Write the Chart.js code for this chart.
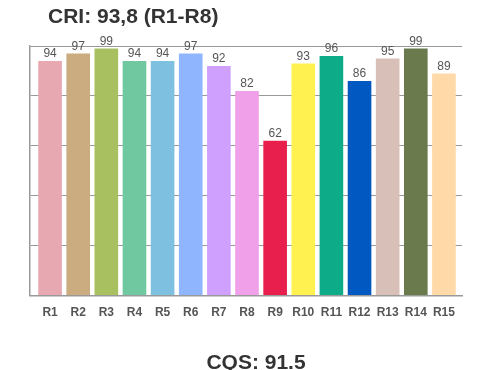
<!DOCTYPE html>
<html>
<head>
<meta charset="utf-8">
<script src="https://cdn.jsdelivr.net/npm/chart.js@4"></script>
<style>
  body { margin: 0; background: #fff; font-family: "Liberation Sans", Arial, sans-serif; }
  #wrap { position: relative; width: 500px; height: 370px; overflow: hidden; }
  #wrap canvas { position: absolute; left: 0; top: 0; }
  .ttl { position: absolute; font-weight: bold; font-size: 21px; color: #333; white-space: nowrap; }
  #top { left: 48px; top: 4px; }
  #bottom { left: 0; width: 512px; text-align: center; top: 350px; }
</style>
</head>
<body>
<div id="wrap">
  <canvas id="cri" width="500" height="370"></canvas>
  <div class="ttl" id="top">CRI: 93,8 (R1-R8)</div>
  <div class="ttl" id="bottom">CQS: 91.5</div>
</div>
<script>
const labels = ["R1", "R2", "R3", "R4", "R5", "R6", "R7", "R8", "R9", "R10", "R11", "R12", "R13", "R14", "R15"];
const values = [94, 97, 99, 94, 94, 97, 92, 82, 62, 93, 96, 86, 95, 99, 89];
const colors = ["#e8a8b1", "#cbab80", "#a9c060", "#6fc8a0", "#7ec0e0", "#8fb5ff", "#d0a0ff", "#f0a0e8",
                "#e81e4c", "#fff250", "#0eab88", "#0058c0", "#d8c0b8", "#6a7a4c", "#ffd9a8"];

// bars sit a bit inside the frame, like the original
const insetX = {
  id: "insetX",
  afterLayout(chart) {
    const x = chart.scales.x;
    x._startPixel += 6;
    x._endPixel -= 4;
    x._length = x._endPixel - x._startPixel;
  }
};

// value labels above each bar
const valueLabels = {
  id: "valueLabels",
  afterDatasetsDraw(chart) {
    const ctx = chart.ctx;
    const meta = chart.getDatasetMeta(0);
    ctx.save();
    ctx.font = "12px 'Liberation Sans', Arial";
    ctx.fillStyle = "#555";
    ctx.textAlign = "center";
    ctx.textBaseline = "bottom";
    meta.data.forEach((bar, i) => {
      ctx.fillText(values[i], bar.x, bar.y - 1);
    });
    ctx.restore();
  }
};

new Chart(document.getElementById("cri"), {
  type: "bar",
  data: {
    labels: labels,
    datasets: [{
      data: values,
      backgroundColor: colors,
      borderWidth: 0,
      barPercentage: 0.84,
      categoryPercentage: 1
    }]
  },
  options: {
    responsive: false,
    animation: false,
    layout: { padding: { left: 30, right: 38, top: 46, bottom: 48 } },
    plugins: { legend: { display: false }, tooltip: { enabled: false }, title: { display: false } },
    scales: {
      x: {
        grid: { display: false },
        border: { color: "#999", width: 1.5 },
        ticks: { color: "#555", font: { family: "'Liberation Sans', Arial", size: 12, weight: "bold" }, padding: 2 }
      },
      y: {
        min: 0,
        max: 100,
        ticks: { display: false, stepSize: 20 },
        grid: { color: "#999", drawTicks: false },
        border: { color: "#999", width: 1.5 }
      }
    }
  },
  plugins: [insetX, valueLabels]
});
</script>
</body>
</html>
